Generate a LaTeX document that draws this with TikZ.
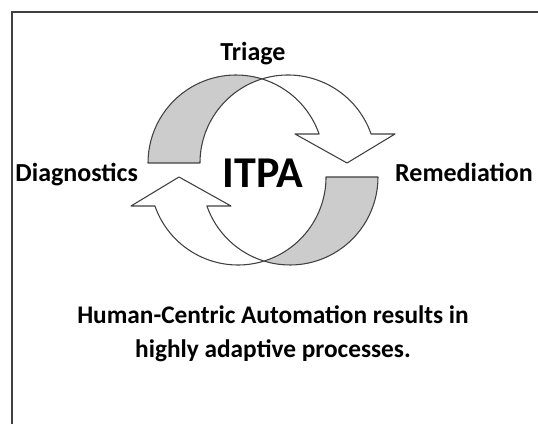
\documentclass[tikz,border=0pt]{standalone}
\usepackage{fontspec}
\setmainfont{Carlito}
\begin{document}
\begin{tikzpicture}[x=0.75pt,y=0.75pt,
  band/.style={draw=black!75, line width=0.8pt, line join=round},
  backface/.style={band, fill=black!20},
  frontface/.style={band, fill=white},
  lbl/.style={font=\bfseries\fontsize{19.5}{23}\selectfont, inner sep=0pt, anchor=base},
  title/.style={font=\bfseries\fontsize{33}{38}\selectfont, inner sep=0pt, anchor=base},
  caption/.style={font=\bfseries\fontsize{19}{25.5}\selectfont, align=center, inner sep=0pt, anchor=base}]
\useasboundingbox (0,0) rectangle (538,424);
% frame (top and left edges visible)
\draw[black!75, line width=1.2pt] (12,0) -- (12,412) -- (538,412);
% arrow geometry: two circles r=88, centres (236,261) and (288,261)
\newcommand{\curvedarrow}{%
  \path[backface] (148,261) arc[start angle=180, end angle=72.82, radius=88]
     arc[start angle=107.18, end angle=180, radius=88] -- cycle;
  \path[frontface] (262,345.07) arc[start angle=107.18, end angle=19.24, radius=88]
     -- (395,290) -- (347,261) -- (295,290) -- (319.1,290)
     arc[start angle=19.24, end angle=72.82, radius=88] -- cycle;}
\curvedarrow
\begin{scope}[rotate around={180:(263,254)}]
\curvedarrow
\end{scope}
\node[lbl] (triage) at (253,363) {Triage};
\node[lbl] (diag) at (76.7,242.3) {Diagnostics};
\node[lbl] (rem) at (464,242.3) {Remediation};
\node[title] (itpa) at (263,236) {ITPA};
\node[caption] (cap) at (273,66) {Human-Centric Automation results in\\highly adaptive processes.};
\end{tikzpicture}
\end{document}
